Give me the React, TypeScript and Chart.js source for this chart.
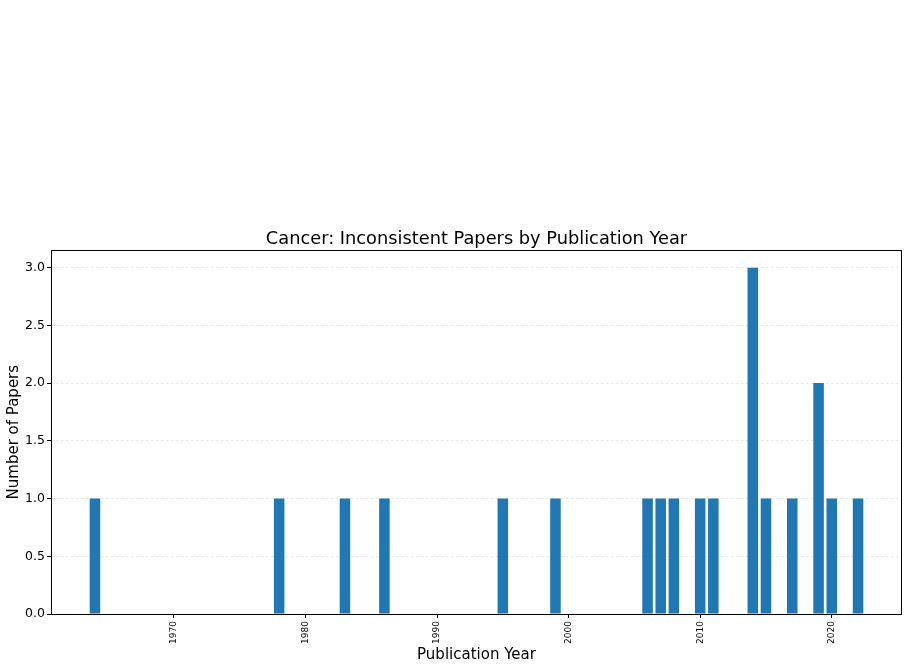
import React, { useEffect, useRef } from "react";
import { Chart, registerables } from "chart.js";

Chart.register(...registerables);

const years = [1964, 1978, 1983, 1986, 1995, 1999, 2006, 2007, 2008, 2010, 2011, 2014, 2015, 2017, 2019, 2020, 2022];
const counts = [1, 1, 1, 1, 1, 1, 1, 1, 1, 1, 1, 3, 1, 1, 2, 1, 1];
const xTicks = [1970, 1980, 1990, 2000, 2010, 2020];
const yTicks = [0, 0.5, 1, 1.5, 2, 2.5, 3];

const TITLE = "Cancer: Inconsistent Papers by Publication Year";
const X_LABEL = "Publication Year";
const Y_LABEL = "Number of Papers";

const FONT = "'DejaVu Sans', sans-serif";

const framePlugin = {
  id: "frame",
  afterDraw(chart: any) {
    const { ctx, chartArea } = chart;
    const { left, top, right, bottom } = chartArea;
    ctx.save();
    ctx.strokeStyle = "#000";
    ctx.lineWidth = 1;
    ctx.strokeRect(Math.round(left) + 0.5, Math.round(top) + 0.5, Math.round(right - left) - 1, Math.round(bottom - top));
    ctx.restore();
  },
};

export default function App() {
  const ref = useRef<HTMLCanvasElement | null>(null);

  useEffect(() => {
    if (!ref.current) return;
    const lo = Math.min(...years) - 0.4;
    const hi = Math.max(...years) + 0.4;
    const pad = (hi - lo) * 0.05;
    const yMax = Math.max(...counts) * 1.05;

    Chart.defaults.color = "#000";
    Chart.defaults.font.family = FONT;

    const chart = new Chart(ref.current, {
      type: "bar",
      data: {
        datasets: [
          {
            data: years.map((y, i) => ({ x: y, y: counts[i] })),
            backgroundColor: "#1f77b4",
            borderWidth: 0,
            categoryPercentage: 1,
            barPercentage: 0.8,
          },
        ],
      },
      options: {
        animation: false,
        responsive: true,
        maintainAspectRatio: false,
        layout: { padding: { top: 0, left: 0, right: 7, bottom: 0 } },
        plugins: {
          legend: { display: false },
          tooltip: { enabled: false },
          title: {
            display: true,
            fullSize: false,
            text: TITLE,
            color: "#000",
            font: { family: FONT, size: 17.8, weight: "normal" },
            padding: { top: 229, bottom: 0 },
          },
        },
        scales: {
          x: {
            type: "linear",
            offset: false,
            min: lo - pad,
            max: hi + pad,
            border: { display: false },
            grid: {
              offset: false,
              drawOnChartArea: false,
              drawTicks: true,
              tickLength: 4,
              tickColor: "#000",
            },
            ticks: {
              minRotation: 90,
              maxRotation: 90,
              padding: 3,
              color: "#000",
              font: { family: FONT, size: 9 },
              callback: (v: any) => String(v),
            },
            afterBuildTicks: (scale: any) => {
              scale.ticks = xTicks.map((v) => ({ value: v }));
            },
            afterFit: (scale: any) => {
              scale.height = 53;
            },
            title: {
              display: true,
              text: X_LABEL,
              color: "#000",
              font: { family: FONT, size: 15 },
              padding: { top: 0, bottom: 3 },
            },
          },
          y: {
            type: "linear",
            min: 0,
            max: yMax,
            border: { display: false, dash: [2.5, 2.5] },
            grid: {
              color: "rgba(0,0,0,0.13)",
              lineWidth: 0.8,
              drawTicks: true,
              tickLength: 4,
              tickColor: "#000",
              tickBorderDash: [],
              tickWidth: 1,
            },
            ticks: {
              padding: 2,
              color: "#000",
              font: { family: FONT, size: 12.5 },
              callback: (v: any) => Number(v).toFixed(1),
            },
            afterBuildTicks: (scale: any) => {
              scale.ticks = yTicks.map((v) => ({ value: v }));
            },
            afterFit: (scale: any) => {
              scale.width = 51;
            },
            title: {
              display: true,
              text: Y_LABEL,
              color: "#000",
              font: { family: FONT, size: 15 },
              padding: { top: 5, bottom: 0 },
            },
          },
        },
      },
      plugins: [framePlugin],
    } as any);

    return () => chart.destroy();
  }, []);

  return (
    <div style={{ position: "fixed", left: 0, top: 0, width: 909, height: 667, background: "#fff" }}>
      <canvas ref={ref} />
    </div>
  );
}
